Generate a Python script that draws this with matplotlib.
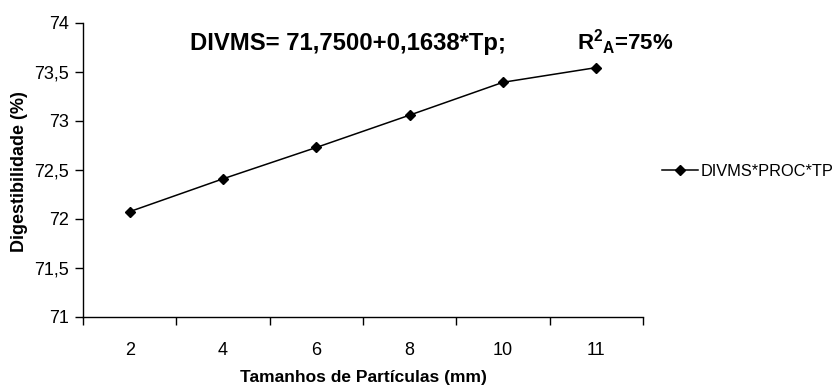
import matplotlib.pyplot as plt
from matplotlib.ticker import FixedLocator, FuncFormatter

plt.rcParams['font.family'] = ['Liberation Sans', 'DejaVu Sans']
plt.rcParams['mathtext.fontset'] = 'custom'
plt.rcParams['mathtext.rm'] = 'Liberation Sans:bold'
plt.rcParams['mathtext.bf'] = 'Liberation Sans:bold'
plt.rcParams['mathtext.default'] = 'rm'

# data
tamanhos = ['2', '4', '6', '8', '10', '11']
divms = [72.075, 72.41, 72.73, 73.06, 73.395, 73.545]
serie = 'DIVMS*PROC*TP'

fig = plt.figure(figsize=(8.4, 3.88), dpi=100)
ax = fig.add_axes([83/840, 1 - 317/388, 560/840, 294/388])

pos = list(range(len(tamanhos)))
ax.plot(pos, divms, color='black', lw=1.1, marker='D', ms=5.5,
        markerfacecolor='black', label=serie)

# category axis like excel: ticks between categories, labels centred
ax.set_xlim(-0.5, len(tamanhos) - 0.5)
ax.xaxis.set_major_locator(FixedLocator([i - 0.5 for i in range(len(tamanhos) + 1)]))
ax.xaxis.set_major_formatter(FuncFormatter(lambda v, p: ''))
ax.xaxis.set_minor_locator(FixedLocator(pos))
ax.set_xticklabels(tamanhos, minor=True)
ax.tick_params(axis='x', which='major', length=6, direction='out', width=1)
ax.tick_params(axis='x', which='minor', length=0, pad=18, labelsize=13)

ax.set_ylim(71, 74)
ax.set_yticks([71 + 0.5 * i for i in range(7)])
ax.yaxis.set_major_formatter(FuncFormatter(lambda v, p: ('%g' % v).replace('.', ',')))
ax.tick_params(axis='y', length=6, direction='out', width=1, labelsize=13, pad=4)

for s in ['top', 'right']:
    ax.spines[s].set_visible(False)
for s in ['left', 'bottom']:
    ax.spines[s].set_linewidth(1)

ax.set_xlabel('Tamanhos de Partículas (mm)', fontsize=12.5, fontweight='bold', labelpad=8)
ax.set_ylabel('Digestibilidade (%)', fontsize=13, fontweight='bold')
ax.yaxis.set_label_coords(-0.098, 0.493)

fig.text(190/840, 1 - 50/388, 'DIVMS= 71,7500+0,1638*Tp;', fontsize=17.2,
         fontweight='bold', va='baseline')
fig.text(577/840, 1 - 50/388, r'R$^{\mathbf{2}}$$_{\mathbf{A}}$=75%', fontsize=16,
         fontweight='bold', va='baseline')

fig.legend(loc='center left', bbox_to_anchor=(655/840, 1 - 171/388), frameon=False,
           fontsize=11.8, handlelength=2.2, handletextpad=0.2, borderaxespad=0,
           markerscale=0.85)

fig.savefig('out.png', dpi=100)
